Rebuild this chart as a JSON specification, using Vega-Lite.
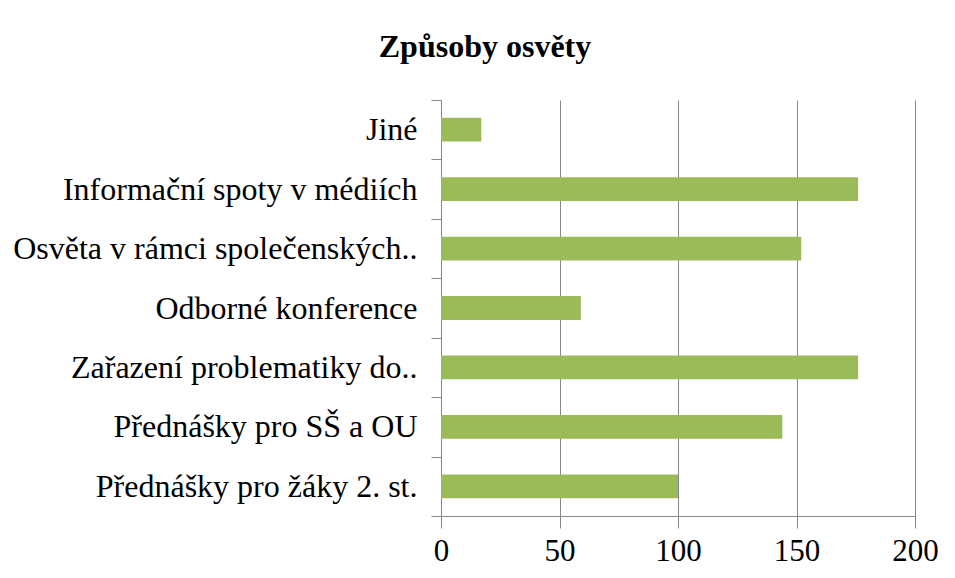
{
  "$schema": "https://vega.github.io/schema/vega-lite/v6.json",
  "width": 474,
  "height": 416,
  "autosize": {"type": "none"},
  "padding": {"left": 441, "top": 100, "right": 40, "bottom": 62},
  "background": "white",
  "title": {
    "text": "Způsoby osvěty",
    "font": "Liberation Serif",
    "fontSize": 32,
    "fontWeight": "bold",
    "color": "black",
    "anchor": "middle",
    "dx": -193,
    "offset": 20
  },
  "data": {
    "values": [
      {"kategorie": "Jiné", "pocet": 17},
      {"kategorie": "Informační spoty v médiích", "pocet": 176},
      {"kategorie": "Osvěta v rámci  společenských..", "pocet": 152},
      {"kategorie": "Odborné konference", "pocet": 59},
      {"kategorie": "Zařazení problematiky do..", "pocet": 176},
      {"kategorie": "Přednášky pro SŠ a OU", "pocet": 144},
      {"kategorie": "Přednášky pro žáky 2. st.", "pocet": 100}
    ]
  },
  "mark": {"type": "bar", "color": "#9BBB59", "height": {"band": 0.4}},
  "encoding": {
    "y": {
      "field": "kategorie",
      "type": "nominal",
      "sort": null,
      "scale": {"paddingInner": 0, "paddingOuter": 0},
      "axis": {
        "title": null,
        "labelFont": "Liberation Serif",
        "labelFontSize": 32,
        "labelColor": "black",
        "labelPadding": 14,
        "labelLimit": 440,
        "tickBand": "extent",
        "tickSize": 10,
        "tickColor": "#868686",
        "domainColor": "#868686",
        "grid": false
      }
    },
    "x": {
      "field": "pocet",
      "type": "quantitative",
      "scale": {"domain": [0, 200], "nice": false},
      "axis": {
        "title": null,
        "values": [0, 50, 100, 150, 200],
        "labelFont": "Liberation Serif",
        "labelFontSize": 31,
        "labelColor": "black",
        "labelPadding": 8,
        "tickSize": 12,
        "tickColor": "#868686",
        "domainColor": "#868686",
        "grid": true,
        "gridColor": "#868686",
        "gridOpacity": 1
      }
    }
  },
  "config": {
    "view": {"stroke": null},
    "axis": {"labelFlush": false, "labelOverlap": false}
  }
}
